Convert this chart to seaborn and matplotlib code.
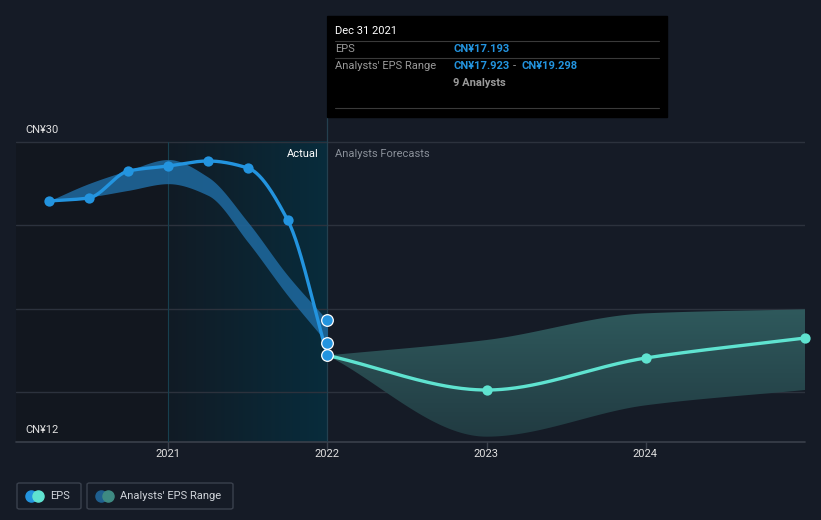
import numpy as np
import pandas as pd
import matplotlib
matplotlib.use("Agg")
import matplotlib.pyplot as plt
import seaborn as sns
from matplotlib.patches import Rectangle, FancyBboxPatch
from matplotlib.lines import Line2D

# ---- data ----
past_dates = [2020.25, 2020.5, 2020.75, 2021.0, 2021.25, 2021.5, 2021.75, 2022.0]
past_eps = [26.46, 26.64, 28.26, 28.56, 28.86, 28.44, 25.32, 17.193]
past_range_low = [26.46, 26.7, 27.1, 27.5, 26.8, 24.0, 20.8, 17.923]
past_range_high = [26.46, 27.5, 28.3, 28.95, 27.9, 25.2, 22.0, 19.298]

fc_dates = [2022.0, 2023.0, 2024.0, 2025.0]
fc_eps = [17.193, 15.12, 17.04, 18.24]
fc_low = [17.193, 12.32, 14.2, 15.12]
fc_high = [17.193, 18.12, 19.72, 19.96]

year_ticks = [2021, 2022, 2023, 2024]
grid_values = [15, 20, 25, 30]

# colours
BG = "#151b26"
BLUE = "#2394df"
TEAL = "#5fe3d0"
GRID = "#2c323d"
W, H = 821, 520


def monotone(x, y, n=300):
    """Monotone cubic curve through the points (only used for drawing)."""
    x = np.asarray(x, float)
    y = np.asarray(y, float)
    h = np.diff(x)
    d = np.diff(y) / h
    m = np.zeros_like(y)
    m[0], m[-1] = d[0], d[-1]
    for i in range(1, len(y) - 1):
        if d[i - 1] * d[i] <= 0:
            m[i] = 0
        else:
            w1 = 2 * h[i] + h[i - 1]
            w2 = h[i] + 2 * h[i - 1]
            m[i] = (w1 + w2) / (w1 / d[i - 1] + w2 / d[i])
    xs = np.linspace(x[0], x[-1], n)
    idx = np.clip(np.searchsorted(x, xs, side="right") - 1, 0, len(h) - 1)
    t = (xs - x[idx]) / h[idx]
    h00 = 2 * t**3 - 3 * t**2 + 1
    h10 = t**3 - 2 * t**2 + t
    h01 = -2 * t**3 + 3 * t**2
    h11 = t**3 - t**2
    ys = h00 * y[idx] + h10 * h[idx] * m[idx] + h01 * y[idx + 1] + h11 * h[idx] * m[idx + 1]
    return xs, ys


def fx(px):
    return px / W


def fy(py):
    return 1 - py / H


sns.set_theme(style="dark")
plt.rcParams["font.family"] = ["Roboto", "DejaVu Sans"]

fig = plt.figure(figsize=(8.21, 5.20), dpi=100, facecolor=BG)
# axes spans x 16..805 px, y 16..442 px
ax = fig.add_axes([fx(16), fy(442), fx(805) - fx(16), fy(16) - fy(442)])
ax.set_facecolor(BG)
x0 = 2021 - (168 - 16) / 159.0
y_top = 30 + (142 - 16) / 16.667
for s in ax.spines.values():
    s.set_visible(False)
ax.grid(False)

# darker past area and "actual" gradient
ax.add_patch(Rectangle((x0, 12), 2021 - x0, 18, color="#12171f", zorder=0, lw=0))
grad = np.linspace(0, 1, 256).reshape(1, -1)
cmap_act = matplotlib.colors.LinearSegmentedColormap.from_list("act", ["#111b25", "#082c3c"])
ax.imshow(grad, extent=(2021, 2022, 12, 30), aspect="auto", cmap=cmap_act, zorder=0.5)

# gridlines
for v in grid_values:
    ax.plot([x0, 2025], [v, v], color=GRID, lw=1, zorder=1)
ax.plot([x0, 2025], [12, 12], color="#3a404b", lw=1.2, zorder=1, clip_on=False)
ax.plot([2021, 2021], [12, 30], color="#17404f", lw=0.8, zorder=1)
ax.plot([2022, 2022], [12, y_top], color="#24404f", lw=0.9, zorder=1, clip_on=False)
for yr in year_ticks:
    ax.plot([yr, yr], [12, 11.6], color="#3a404b", lw=1, clip_on=False)

# past analyst range band
bx, bl = monotone(past_dates, past_range_low)
_, bh = monotone(past_dates, past_range_high)
ax.fill_between(bx, bl, bh, color="#1f6aa0", alpha=0.85, lw=0, zorder=2)

# forecast range band with vertical gradient
fx_, fl = monotone(fc_dates, fc_low)
_, fh = monotone(fc_dates, fc_high)
poly = ax.fill_between(fx_, fl, fh, color="none", lw=0, zorder=2)
vgrad = np.linspace(0, 1, 256).reshape(-1, 1)
cmap_fc = matplotlib.colors.LinearSegmentedColormap.from_list("fc", ["#2f5a5d", "#213a41"])
img = ax.imshow(vgrad, extent=(2022, 2025, 12, 20.2), aspect="auto", cmap=cmap_fc, zorder=2)
img.set_clip_path(poly.get_paths()[0], transform=ax.transData)

# EPS lines
px_, py_ = monotone(past_dates, past_eps)
past_df = pd.DataFrame({"date": px_, "eps": py_})
sns.lineplot(data=past_df, x="date", y="eps", color=BLUE, lw=2.4, ax=ax, zorder=4)
qx, qy = monotone(fc_dates, fc_eps)
fc_df = pd.DataFrame({"date": qx, "eps": qy})
sns.lineplot(data=fc_df, x="date", y="eps", color=TEAL, lw=2.4, ax=ax, zorder=4)

sns.scatterplot(x=past_dates[:-1], y=past_eps[:-1], color=BLUE, s=55, lw=0, ax=ax, zorder=5)
sns.scatterplot(x=fc_dates[1:], y=fc_eps[1:], color=TEAL, s=55, lw=0, ax=ax, zorder=5, clip_on=False)
sns.scatterplot(x=[2022.0] * 3, y=[past_eps[-1], past_range_low[-1], past_range_high[-1]],
                color=BLUE, s=70, edgecolor="white", lw=0.9, ax=ax, zorder=6)
ax.set_xlim(x0, 2025.0)
ax.set_ylim(12, y_top)
ax.set_xticks([])
ax.set_yticks([])
ax.set_xlabel("")
ax.set_ylabel("")

# axis labels
fig.text(fx(25), fy(130), "CN¥30", color="#e0e0e0", fontsize=8, va="center")
fig.text(fx(25), fy(430), "CN¥12", color="#e0e0e0", fontsize=8, va="center")
for yr in year_ticks:
    fig.text(fx(168 + (yr - 2021) * 159), fy(454), str(yr), color="#e0e0e0",
             fontsize=8, ha="center", va="center")
fig.text(fx(319), fy(154), "Actual", color="#ffffff", fontsize=8, ha="right", va="center")
fig.text(fx(335), fy(154), "Analysts Forecasts", color="#8a9099", fontsize=8, va="center")

# tooltip
fig.add_artist(Rectangle((fx(327), fy(117)), fx(667) - fx(327), fy(16) - fy(117),
                         transform=fig.transFigure, color="#000000", zorder=10))
for ly in [41, 58, 108]:
    fig.add_artist(Line2D([fx(335), fx(659)], [fy(ly), fy(ly)], transform=fig.transFigure,
                          color="#3a3a3a", lw=0.8, zorder=11))
fig.text(fx(335), fy(31), "Dec 31 2021", color="#ffffff", fontsize=8, va="center", zorder=12)
fig.text(fx(335), fy(49), "EPS", color="#9a9a9a", fontsize=8, va="center", zorder=12)
fig.text(fx(453), fy(49), "CN¥17.193", color=BLUE, fontsize=8, va="center",
         fontweight="bold", zorder=12)
fig.text(fx(335), fy(66), "Analysts' EPS Range", color="#9a9a9a", fontsize=8, va="center", zorder=12)
fig.text(fx(453), fy(66), "CN¥17.923", color=BLUE, fontsize=8, va="center",
         fontweight="bold", zorder=12)
fig.text(fx(513), fy(66), "-", color="#9a9a9a", fontsize=8, va="center", zorder=12)
fig.text(fx(521), fy(66), "CN¥19.298", color=BLUE, fontsize=8, va="center",
         fontweight="bold", zorder=12)
fig.text(fx(453), fy(83), "9 Analysts", color="#9a9a9a", fontsize=8, va="center",
         fontweight="bold", zorder=12)

# legend
for (lx, rx, c1, c2, label) in [(17, 81, BLUE, TEAL, "EPS"),
                                (87, 233, "#1f5f8f", "#3e8a82", "Analysts' EPS Range")]:
    fig.add_artist(FancyBboxPatch((fx(lx), fy(509)), fx(rx) - fx(lx), fy(483) - fy(509),
                                  boxstyle="round,pad=0,rounding_size=0.003",
                                  transform=fig.transFigure, fc="none", ec="#3a414d", lw=1))
    fig.add_artist(Line2D([fx(lx + 14)], [fy(496)], marker="o", ms=8, color=c1,
                          transform=fig.transFigure, lw=0))
    fig.add_artist(Line2D([fx(lx + 21)], [fy(496)], marker="o", ms=8, color=c2,
                          transform=fig.transFigure, lw=0))
    fig.text(fx(lx + 33), fy(496), label, color="#d0d4da", fontsize=8, va="center")

fig.savefig("out.png", dpi=100, facecolor=BG)
